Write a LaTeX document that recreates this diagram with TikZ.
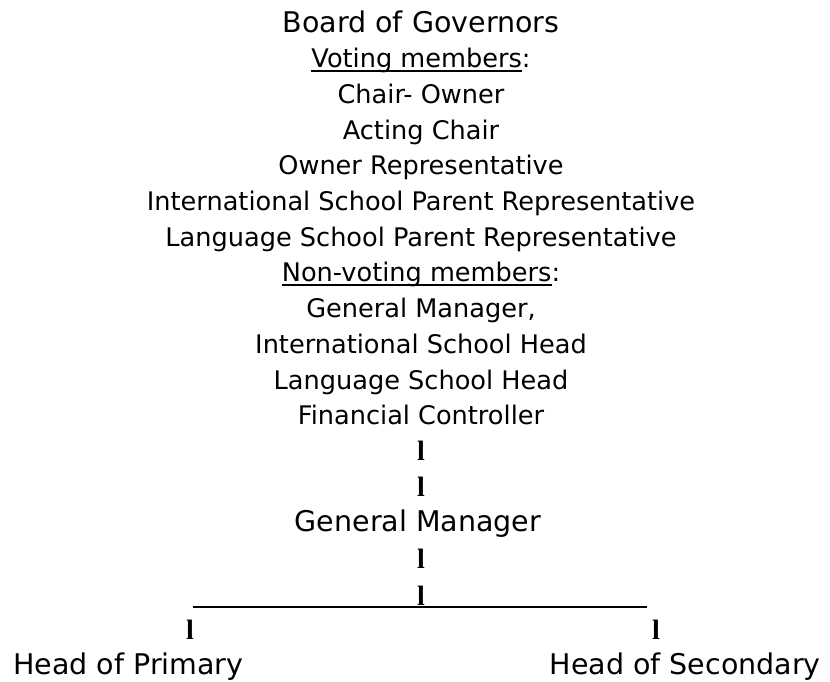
\documentclass[tikz,border=0pt]{standalone}
\usepackage{fontspec}
\setmainfont{DejaVu Sans}
\newfontfamily\barfont{Liberation Serif}
\newcommand\myul[1]{\setbox0\hbox{#1}\rlap{\rule[-4pt]{\wd0}{1.8pt}}\box0}
\begin{document}
\begin{tikzpicture}[x=1pt,y=-1pt,
  txt/.style={anchor=base,inner sep=0pt,font=\fontsize{25.6}{30}\selectfont},
  big/.style={anchor=base,inner sep=0pt,font=\fontsize{28.5}{34}\selectfont},
  bar/.style={anchor=base,inner sep=0pt,font=\barfont\bfseries\fontsize{28}{32}\selectfont},
  rule/.style={line width=1.8pt}]
\useasboundingbox (0,0) rectangle (830,682);
\node[big] (bog) at (421,33) {Board of Governors};
\node[txt] (vm) at (421,67.7) {\myul{Voting members}:};
\node[txt] (co) at (421,103.4) {Chair- Owner};
\node[txt] (ac) at (421,139.1) {Acting Chair};
\node[txt] (or) at (421,174.8) {Owner Representative};
\node[txt] (ispr) at (421,210.5) {International School Parent Representative};
\node[txt] (lspr) at (421,246.2) {Language School Parent Representative};
\node[txt] (nvm) at (421,281.9) {\myul{Non-voting members}:};
\node[txt] (gm1) at (421,317.6) {General Manager,};
\node[txt] (ish) at (421,353.3) {International School Head};
\node[txt] (lsh) at (421,389) {Language School Head};
\node[txt] (fc) at (421,424.7) {Financial Controller};
\node[bar] (l1) at (421,460.5) {l};
\node[bar] (l2) at (421,496.5) {l};
\node[big] (gm) at (418,531) {General Manager};
\node[bar] (l3) at (421,568.5) {l};
\coordinate (uL) at (193,607);
\coordinate (uR) at (647,607);
\draw[rule] (uL) -- (uR);
\node[bar] (lm) at (421,605) {l};
\node[bar] (ll) at (190,639.5) {l};
\node[bar] (lr) at (656,639.5) {l};
\node[big,anchor=base west] (hp) at (13,674.5) {Head of Primary};
\node[big,anchor=base east] (hs) at (821,674.5) {Head of Secondary};
\end{tikzpicture}
\end{document}
